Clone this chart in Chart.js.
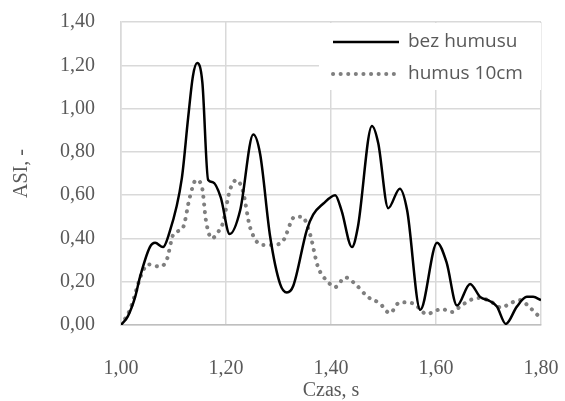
<!DOCTYPE html>
<html>
<head>
<meta charset="utf-8">
<script src="https://cdn.jsdelivr.net/npm/chart.js@4.4.1/dist/chart.umd.min.js"></script>
<style>
  html, body { margin: 0; padding: 0; background: #fff; overflow: hidden; }
  canvas { display: block; }
</style>
</head>
<body>
<canvas id="chart" width="565" height="401"></canvas>
<script>
// values
const czasBez = [1.00, 1.013, 1.027, 1.036, 1.055, 1.065, 1.08, 1.09, 1.116, 1.128, 1.137, 1.145, 1.155, 1.166, 1.175, 1.19, 1.207, 1.227, 1.252, 1.265, 1.284, 1.303, 1.316, 1.328, 1.354, 1.366, 1.385, 1.408, 1.42, 1.44, 1.451, 1.478, 1.49, 1.509, 1.531, 1.545, 1.57, 1.602, 1.62, 1.64, 1.665, 1.684, 1.703, 1.716, 1.733, 1.754, 1.773, 1.785, 1.80];
const asiBez = [0, 0.04, 0.13, 0.22, 0.36, 0.38, 0.36, 0.41, 0.68, 0.96, 1.15, 1.21, 1.12, 0.67, 0.66, 0.59, 0.42, 0.53, 0.88, 0.79, 0.41, 0.19, 0.15, 0.18, 0.44, 0.51, 0.56, 0.60, 0.53, 0.36, 0.45, 0.92, 0.84, 0.54, 0.63, 0.53, 0.07, 0.38, 0.29, 0.09, 0.19, 0.13, 0.11, 0.085, 0.005, 0.085, 0.13, 0.13, 0.115];

const czasHumus = [1.00, 1.017, 1.04, 1.052, 1.074, 1.087, 1.10, 1.118, 1.131, 1.143, 1.154, 1.162, 1.173, 1.185, 1.194, 1.207, 1.22, 1.232, 1.246, 1.27, 1.29, 1.309, 1.331, 1.345, 1.36, 1.375, 1.394, 1.408, 1.427, 1.446, 1.47, 1.493, 1.512, 1.531, 1.556, 1.583, 1.594, 1.611, 1.63, 1.646, 1.665, 1.684, 1.703, 1.725, 1.741, 1.76, 1.779, 1.80];
const asiHumus = [0, 0.07, 0.24, 0.28, 0.27, 0.30, 0.42, 0.45, 0.59, 0.67, 0.64, 0.48, 0.40, 0.43, 0.47, 0.62, 0.67, 0.62, 0.45, 0.37, 0.37, 0.39, 0.50, 0.50, 0.42, 0.27, 0.20, 0.175, 0.22, 0.19, 0.13, 0.10, 0.055, 0.105, 0.10, 0.05, 0.06, 0.074, 0.06, 0.085, 0.115, 0.125, 0.11, 0.08, 0.10, 0.115, 0.08, 0.03];

const seriesNames = ['bez humusu', 'humus 10cm'];
const xTitle = 'Czas, s';
const yTitle = 'ASI, -';

function toPoints(xs, ys) {
  return xs.map((x, i) => ({x: x, y: ys[i]}));
}

const grey = '#595959';
const gridColor = '#d9d9d9';
const serif = '"Liberation Serif", serif';

// legend drawn in a white box in the top right corner of the plot
const boxLegend = {
  id: 'boxLegend',
  afterDraw(c) {
    const ctx = c.ctx;
    const area = c.chartArea;
    const x0 = area.right - 222, y0 = area.top;
    ctx.save();
    ctx.fillStyle = '#fff';
    ctx.fillRect(x0, y0 + 1, 222, 67);
    c.data.datasets.forEach((ds, i) => {
      const y = y0 + 20 + i * 32;
      ctx.beginPath();
      ctx.strokeStyle = ds.borderColor;
      ctx.lineWidth = ds.borderWidth;
      ctx.lineCap = ds.borderCapStyle || 'butt';
      ctx.setLineDash(ds.borderDash || []);
      ctx.moveTo(x0 + 14, y);
      ctx.lineTo(x0 + 80, y);
      ctx.stroke();
      ctx.setLineDash([]);
      ctx.fillStyle = grey;
      ctx.font = '19px "Open Sans", sans-serif';
      ctx.textBaseline = 'middle';
      ctx.fillText(ds.label, x0 + 89, y);
    });
    ctx.restore();
  }
};

new Chart(document.getElementById('chart'), {
  type: 'line',
  data: {
    datasets: [{
      label: seriesNames[0],
      data: toPoints(czasBez, asiBez),
      borderColor: '#000',
      borderWidth: 2.5,
      pointRadius: 0,
      cubicInterpolationMode: 'monotone'
    }, {
      label: seriesNames[1],
      data: toPoints(czasHumus, asiHumus),
      borderColor: '#7f7f7f',
      borderWidth: 4,
      borderDash: [0.1, 7.5],
      borderCapStyle: 'round',
      pointRadius: 0,
      cubicInterpolationMode: 'monotone'
    }]
  },
  options: {
    responsive: false,
    animation: false,
    devicePixelRatio: 1,
    layout: { padding: { top: 22, right: 24, left: 0, bottom: 0 } },
    plugins: { legend: { display: false }, tooltip: { enabled: false } },
    scales: {
      x: {
        type: 'linear',
        min: 1.0,
        max: 1.8,
        afterFit(s) { s.height = 76; s.paddingLeft = 0; s.paddingRight = 0; },
        ticks: {
          stepSize: 0.2,
          padding: 32,
          color: grey,
          font: { family: serif, size: 20 },
          callback: v => v.toFixed(2).replace('.', ',')
        },
        grid: { color: gridColor, lineWidth: 1.5, drawTicks: false },
        border: { color: '#bfbfbf', width: 1.5 },
        title: { display: true, text: xTitle, color: grey, font: { family: serif, size: 20, lineHeight: 1 }, padding: { top: 0, bottom: 0 } }
      },
      y: {
        min: 0,
        max: 1.4,
        afterFit(s) { s.width = 121; s.paddingTop = 0; s.paddingBottom = 0; },
        ticks: {
          stepSize: 0.2,
          padding: 26,
          color: grey,
          font: { family: serif, size: 20 },
          callback: v => v.toFixed(2).replace('.', ',')
        },
        grid: { color: gridColor, lineWidth: 1.5, drawTicks: false },
        border: { color: gridColor, width: 1.5 },
        title: { display: true, text: yTitle, color: grey, font: { family: serif, size: 20 }, padding: { top: 10, bottom: 0 } }
      }
    }
  },
  plugins: [boxLegend]
});
</script>
</body>
</html>
